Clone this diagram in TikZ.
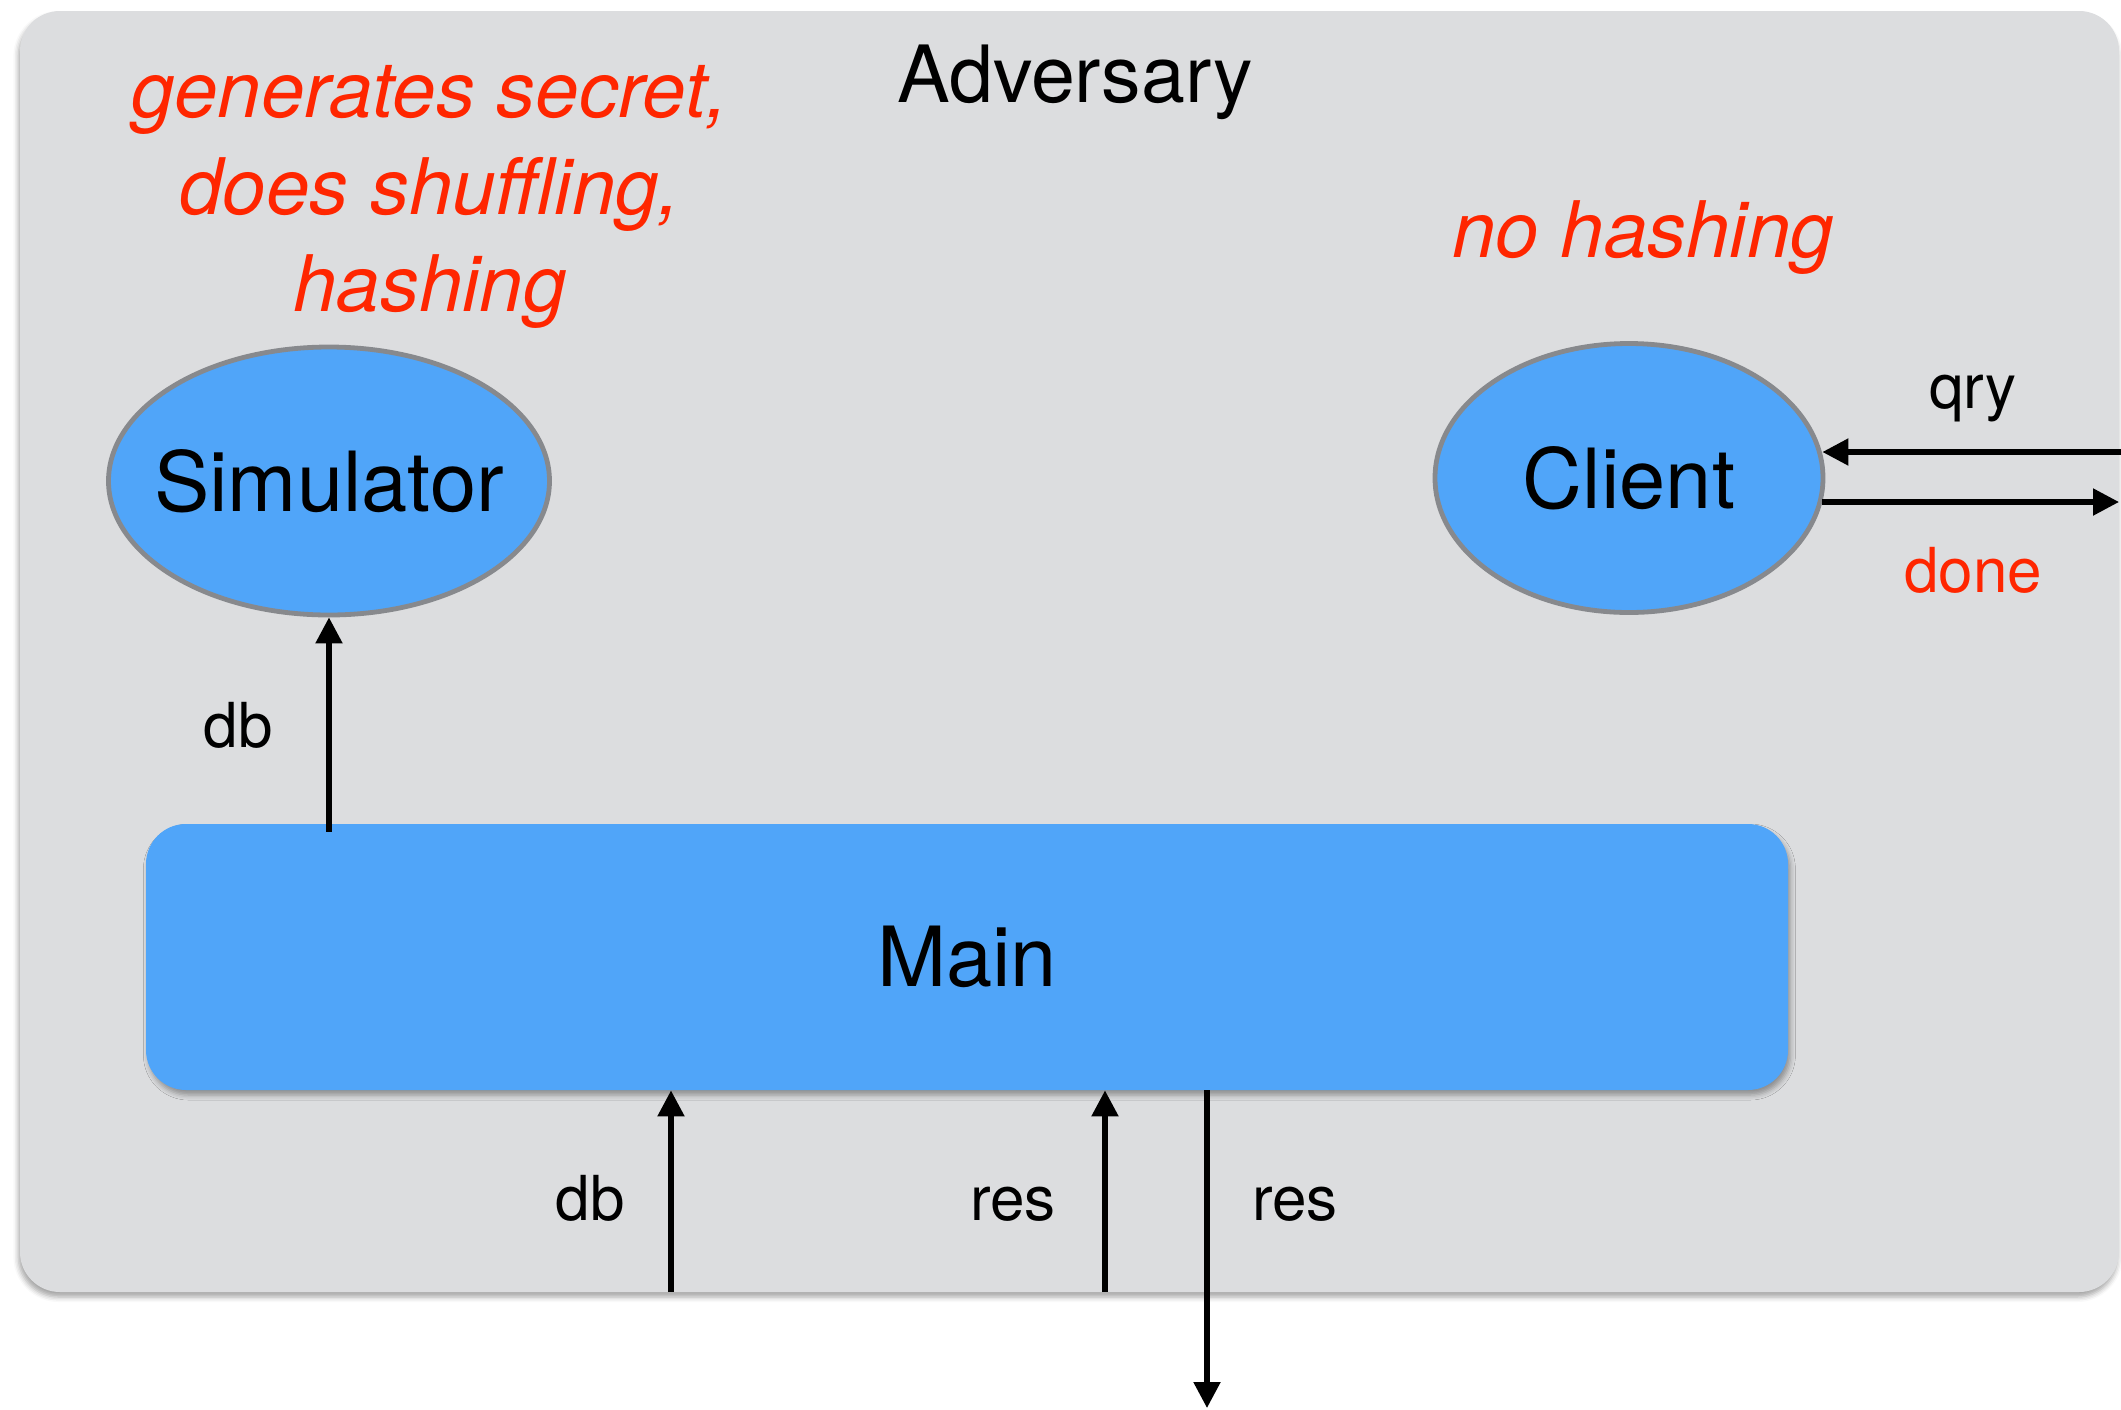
\documentclass[tikz,border=0pt]{standalone}
\usepackage{fontspec}
\setmainfont{TeX Gyre Heros}
\usetikzlibrary{arrows.meta,shapes.geometric,shadows.blur}

\definecolor{panelgray}{RGB}{220,221,223}
\definecolor{roleblue}{RGB}{80,165,249}
\definecolor{rimgray}{RGB}{135,137,141}
\definecolor{notered}{RGB}{255,38,0}

\tikzset{
  softshadow/.style={blur shadow={shadow xshift=1.2pt, shadow yshift=-2.5pt,
      shadow blur radius=2.5pt, shadow opacity=35}},
  panel/.style={rectangle, rounded corners=20pt, fill=panelgray, inner sep=0pt,
      blur shadow={shadow xshift=-0.8pt, shadow yshift=-2.5pt,
      shadow blur radius=2.5pt, shadow opacity=35}},
  role/.style={ellipse, draw=rimgray, line width=2.4pt, fill=roleblue,
      inner sep=0pt, font=\fontsize{41.5}{50}\selectfont},
  mainbox/.style={rectangle, rounded corners=20pt, fill=roleblue, inner sep=0pt,
      minimum width=821pt, minimum height=133pt,
      font=\fontsize{41.5}{50}\selectfont, softshadow},
  flow/.style={line width=2.6pt, -{Triangle[length=13pt,width=13pt]}},
  msg/.style={anchor=base, inner sep=0pt, font=\fontsize{31}{37}\selectfont},
  note/.style={text=notered, inner sep=0pt, align=center,
      font=\fontsize{39}{48.5}\selectfont\itshape},
}
% label set at zero width, so that only the given size shapes an ellipse
\newcommand\rolename[1]{\makebox[0pt]{#1}}

\begin{document}
\begin{tikzpicture}[x=0.5pt, y=-0.5pt]
\useasboundingbox (0,0) rectangle (2121,1409);

% adversary panel
\node[panel, minimum width=1049.5pt, minimum height=640.5pt] (adv) at (1069.5,651.5) {};
\node[anchor=base, inner sep=0pt, font=\fontsize{39.5}{47}\selectfont] (title) at (1075,102) {Adversary};

% parties
\node[role, minimum width=220.5pt, minimum height=134pt] (sim) at (329,481) {\rolename{Simulator}};
\node[role, minimum width=194pt, minimum height=134.5pt] (client) at (1629,478) {\rolename{Client}};
\node[mainbox] (main) at (967,957) {Main};

% remarks
\node[note] (simnote) at (430,197) {generates secret,\\does shuffling,\\hashing};
\node[note, anchor=base] (clientnote) at (1643,257) {no hashing};

% free ends of connectors
\coordinate (qin) at (2121,452);
\coordinate (dout) at (2119,502);
\coordinate (dbin) at (671,1292);
\coordinate (resin) at (1105,1292);
\coordinate (resout) at (1207,1408);

% connectors
\draw[flow] ([yshift=-4pt]sim.south |- main.north) -- (sim.south);
\draw[flow] (qin) -- (qin -| client.7.8);
\draw[flow] (client.-7.2 |- dout) -- (dout);
\draw[flow] (dbin) -- (dbin |- main.south);
\draw[flow] (resin) -- (resin |- main.south);
\draw[flow] (resout |- main.south) -- (resout);

% connector labels
\node[msg] (lqry) at (1973,408) {qry};
\node[msg, text=notered] (ldone) at (1973,592) {done};
\node[msg] (ldbsim) at (238,747) {db};
\node[msg] (ldbin) at (590,1220) {db};
\node[msg] (lresin) at (1013,1220) {res};
\node[msg] (lresout) at (1295,1220) {res};
\end{tikzpicture}
\end{document}
